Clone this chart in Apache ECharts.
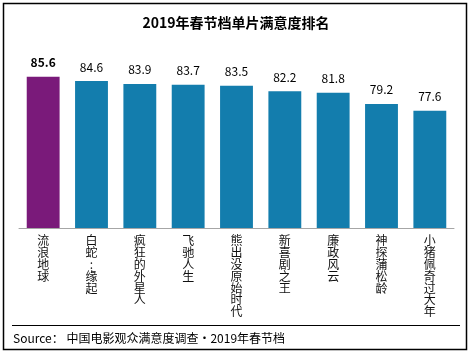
<!DOCTYPE html>
<html><head><meta charset="utf-8">
<script src="https://cdn.jsdelivr.net/npm/echarts@6/dist/echarts.min.js"></script>
<style>html,body{margin:0;padding:0;background:#fff}#c{width:472px;height:356px}</style>
</head><body><div id="c"></div>
<script>
var categories = ['流浪地球','白蛇:缘起','疯狂的外星人','飞驰人生','熊出没原始时代','新喜剧之王','廉政风云','神探蒲松龄','小猪佩奇过大年'];
var values = [85.6, 84.6, 83.9, 83.7, 83.5, 82.2, 81.8, 79.2, 77.6];
var titleText = '2019年春节档单片满意度排名';
var sourceText = 'Source： 中国电影观众满意度调查·2019年春节档';
var FONT = '"Noto Sans CJK SC", "Noto Sans", sans-serif';
var chart = echarts.init(document.getElementById('c'));
chart.setOption({
  animation: false,
  title: { text: titleText, left: 'center', top: 11, textStyle: { fontFamily: FONT, fontSize: 14, fontWeight: 'bold', color: '#000' } },
  grid: { left: 19, width: 435, top: 58, bottom: 128 },
  xAxis: {
    type: 'category', data: categories,
    axisLine: { lineStyle: { color: '#a6a6a6', width: 1 } },
    axisTick: { show: false },
    axisLabel: {
      interval: 0, margin: 7, fontFamily: FONT, fontSize: 12, lineHeight: 11.8, color: '#111',
      verticalAlign: 'top',
      formatter: function (v) { return v.split('').join('\n'); }
    }
  },
  yAxis: { type: 'value', min: 50, max: 90, show: false, splitLine: { show: false } },
  series: [{
    type: 'bar', barWidth: '68%',
    data: values.map(function (v, i) {
      return { value: v, itemStyle: { color: i === 0 ? '#7a1a7a' : '#137dad' },
        label: { fontWeight: i === 0 ? 'bold' : 'normal' } };
    }),
    label: { show: true, position: 'top', distance: 8, fontFamily: FONT, fontSize: 12, color: '#000' }
  }],
  graphic: [
    { type: 'rect', shape: { x: 3.5, y: 3.5, width: 463, height: 346 }, style: { fill: null, stroke: '#000', lineWidth: 1.5 }, silent: true },
    { type: 'line', shape: { x1: 12, y1: 325.5, x2: 460, y2: 325.5 }, style: { stroke: '#000', lineWidth: 1 } },
    { type: 'text', left: 13, top: 332, style: { text: sourceText, font: '12px ' + FONT, fill: '#000' } }
  ]
});
</script></body></html>
